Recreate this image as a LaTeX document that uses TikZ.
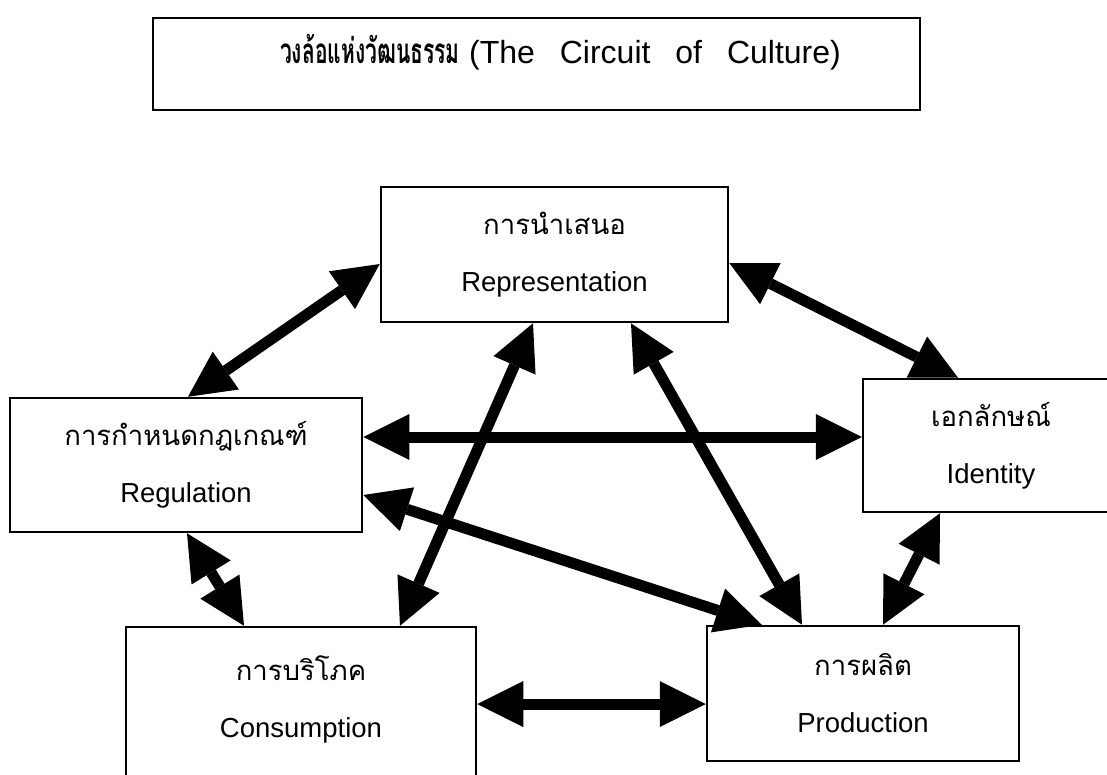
\documentclass[tikz,border=0pt]{standalone}
\usepackage{fontspec}
\setmainfont{Liberation Sans}
\newfontfamily\thai[Script=Thai]{Loma}
\usetikzlibrary{arrows.meta}
\tikzset{
  box/.style={draw=black, line width=2.5pt, rectangle, inner sep=0pt, align=center,
    font=\fontsize{27.5}{57}\selectfont},
  boxtext/.style={inner sep=0pt, align=center, font=\fontsize{27.5}{57}\selectfont},
  bi/.style={line width=11pt, {Triangle[length=46pt,width=46pt,line width=0pt]}-{Triangle[length=46pt,width=46pt,line width=0pt]}},
}
\begin{document}
\begin{tikzpicture}[x=1pt,y=-1pt]
\fill[white] (0,0) rectangle (1107,775);
\useasboundingbox (0,0) rectangle (1107,775);
% title
\node[draw=black, line width=2.5pt, minimum width=767pt, minimum height=92pt, inner sep=0pt] (tb) at (536.5,64) {};
\node[font=\fontsize{32}{36}\selectfont, inner sep=0pt] (title) at (560.5,52)
  {\scalebox{0.6}[1]{\fontsize{35}{40}\selectfont\thai\bfseries วงล้อแห่งวัฒนธรรม}\hspace{0.3em}(The\hspace{0.5em} Circuit\hspace{0.5em} of\hspace{0.5em} Culture)};
% boxes
\node[box, minimum width=347pt, minimum height=135pt] (rep) at (554.5,254.5)
  {{\thai การนำเสนอ}\\Representation};
\node[box, minimum width=352pt, minimum height=134pt] (reg) at (186,465)
  {{\thai การกำหนดกฎเกณฑ์}\\Regulation};
\node[box, minimum width=256pt, minimum height=133pt] (id) at (991,445.5)
  {{\thai เอกลักษณ์}\\Identity};
\node[box, minimum width=350pt, minimum height=180pt] (cons) at (301,717) {};
\node[boxtext] (constext) at (301,699) {{\thai การบริโภค}\\Consumption};
\node[box, minimum width=312pt, minimum height=135pt] (prod) at (863,693.5)
  {{\thai การผลิต}\\Production};
% connectors
\draw[bi] ([yshift=-9.5pt]rep.west) -- ([xshift=2pt]reg.north);
\draw[bi] ([yshift=-8.5pt]rep.east) -- ([xshift=-33pt]id.north);
\draw[bi] ([yshift=28pt]reg.east) -- ([yshift=8.5pt]id.west);
\draw[bi] ([yshift=-30pt]reg.east) -- ([xshift=56pt]prod.north west);
\draw[bi] ([xshift=-21.5pt]rep.south) -- ([xshift=99pt]cons.north);
\draw[bi] ([xshift=76.5pt]rep.south) -- ([xshift=-61pt]prod.north);
\draw[bi] ([xshift=-51pt]id.south) -- ([xshift=20pt]prod.north);
\draw[bi] ([xshift=1pt]reg.south) -- ([xshift=-57pt]cons.north);
\draw[bi] ([yshift=13pt]cons.east) -- ([yshift=-10.5pt]prod.west);
\end{tikzpicture}
\end{document}
